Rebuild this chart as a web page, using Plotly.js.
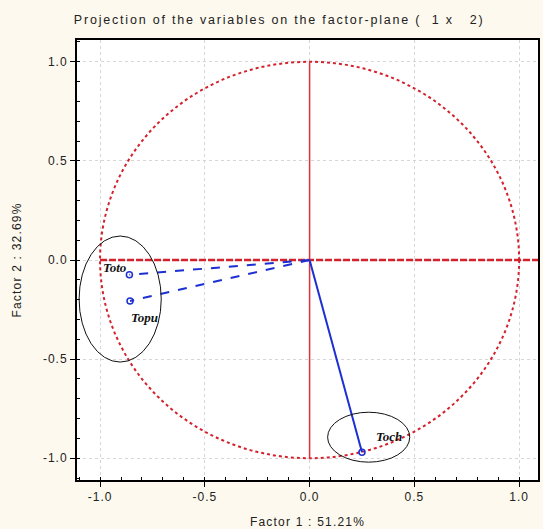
<!DOCTYPE html>
<html>
<head>
<meta charset="utf-8">
<script src="https://cdn.plot.ly/plotly-3.0.1.min.js"></script>
<style>
html,body{margin:0;padding:0;background:#fdf9ee;}
#chart{width:543px;height:529px;}
.gtitle{letter-spacing:1.8px;}
.xtitle,.ytitle{letter-spacing:1.2px;}
.xtick text,.ytick text{letter-spacing:1px;}
</style>
</head>
<body>
<div id="chart"></div>
<script>
// Variables and their factor coordinates
var variables = ["Toto", "Topu", "Toch"];
var factor1 = [-0.86, -0.857, 0.25];
var factor2 = [-0.075, -0.207, -0.97];
var lineDash = ["dash", "dash", "solid"];
// label positions (data units)
var labelX = [-0.93, -0.79, 0.38];
var labelY = [-0.04, -0.29, -0.893];
// highlight ellipses [x0, x1, y0, y1]
var ellipseX0 = [-1.10, 0.086];
var ellipseX1 = [-0.708, 0.478];
var ellipseY0 = [-0.515, -1.02];
var ellipseY1 = [0.121, -0.768];
var tickVals = [-1.0, -0.5, 0.0, 0.5, 1.0];
var tickText = ["-1.0", "-0.5", "0.0", "0.5", "1.0"];

var blue = "#1c2fd2";
var red = "#d4222c";

var traces = [];
for (var i = 0; i < variables.length; i++) {
  traces.push({
    x: [0, factor1[i]], y: [0, factor2[i]],
    mode: "lines", type: "scatter",
    line: {color: blue, width: 2, dash: lineDash[i]},
    hoverinfo: "skip", showlegend: false
  });
}
traces.push({
  x: factor1, y: factor2, mode: "markers", type: "scatter",
  marker: {symbol: "circle-open", size: 6, color: blue, line: {width: 1.5, color: blue}},
  text: variables, showlegend: false
});

var shapes = [
  {type: "circle", xref: "x", yref: "y", x0: -1, x1: 1, y0: -1, y1: 1,
   line: {color: red, width: 2, dash: "dot"}, layer: "between"},
  {type: "line", xref: "x", yref: "y", x0: -1, x1: 1.1, y0: 0, y1: 0,
   line: {color: red, width: 2.5, dash: "7px,2px"}, layer: "between"},
  {type: "line", xref: "x", yref: "y", x0: 0, x1: 0, y0: -1, y1: 1,
   line: {color: "#e0303c", width: 1.5, dash: "solid"}, layer: "between"}
];
for (var j = 0; j < ellipseX0.length; j++) {
  shapes.push({type: "circle", xref: "x", yref: "y",
    x0: ellipseX0[j], x1: ellipseX1[j], y0: ellipseY0[j], y1: ellipseY1[j],
    line: {color: "#111", width: 1}});
}

var annotations = [];
for (var k = 0; k < variables.length; k++) {
  annotations.push({x: labelX[k], y: labelY[k], xref: "x", yref: "y",
    text: "<b><i>" + variables[k] + "</i></b>", showarrow: false,
    font: {family: "Liberation Serif", size: 13, color: "#111"}});
}

var axisCommon = {
  tickvals: tickVals, ticktext: tickText,
  ticks: "outside", ticklen: 5, tickcolor: "#000", tickwidth: 1,
  showline: true, linecolor: "#000", linewidth: 2, mirror: true,
  showgrid: true, gridcolor: "#d6d6d6", griddash: "dot", gridwidth: 1,
  zeroline: false,
  minor: {dtick: 0.1, tick0: 0, ticks: "inside", ticklen: 3, tickcolor: "#000", showgrid: false},
  tickfont: {family: "Liberation Sans", size: 12, color: "#222"}
};

var layout = {
  width: 543, height: 529,
  paper_bgcolor: "#fdf9ee", plot_bgcolor: "#ffffff",
  margin: {l: 77, r: 5, t: 40, b: 49},
  title: {text: "Projection of the variables on the factor-plane (  1 x   2)",
    font: {family: "Liberation Sans", size: 12.5, color: "#222"},
    xref: "container", x: 0.514, xanchor: "center", y: 0.962, yanchor: "middle"},
  xaxis: Object.assign({}, axisCommon, {range: [-1.11, 1.09],
    title: {text: "Factor 1 : 51.21%", font: {family: "Liberation Sans", size: 12, color: "#222"}, standoff: 18}}),
  yaxis: Object.assign({}, axisCommon, {range: [-1.11, 1.11],
    title: {text: "Factor 2 : 32.69%", font: {family: "Liberation Sans", size: 12, color: "#222"}, standoff: 19}}),
  shapes: shapes,
  annotations: annotations,
  showlegend: false
};

Plotly.newPlot("chart", traces, layout, {displayModeBar: false, staticPlot: true});
</script>
</body>
</html>
